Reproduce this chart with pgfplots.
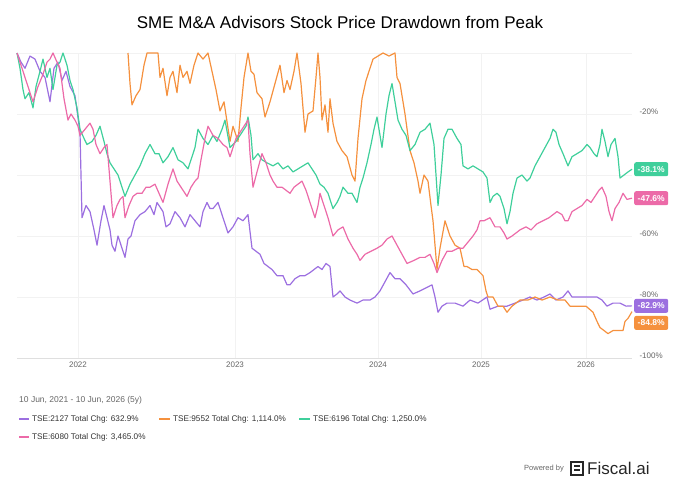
\documentclass[border=0pt]{standalone}
\usepackage{pgfplots}
\pgfplotsset{compat=1.18}
\usepackage{fontspec}
\setmainfont{Liberation Sans}
\definecolor{cpur}{HTML}{9C6FE0}
\definecolor{cora}{HTML}{F5913E}
\definecolor{cgrn}{HTML}{3FCF9B}
\definecolor{cpnk}{HTML}{EC6AA8}
\definecolor{tgray}{HTML}{666666}
\begin{document}
\begin{tikzpicture}
\begin{scope}[x=1pt,y=1pt]
\path (0,0) rectangle (680,-482);
\node[font=\fontsize{17}{20}\selectfont] at (340,-22) {SME M\&A Advisors Stock Price Drawdown from Peak};
\node[anchor=west,font=\fontsize{8.5}{10}\selectfont,text=tgray,inner sep=0pt] at (19,-400) {10 Jun, 2021 - 10 Jun, 2026 (5y)};
\tikzset{lg/.style={anchor=west,inner sep=0pt,font=\fontsize{8.2}{10}\selectfont,text=black!80}}
\draw[cpur,line width=1.5pt] (19,-419) -- (29,-419); \node[lg] at (32,-419) {TSE:2127 Total Chg: 632.9\%};
\draw[cora,line width=1.5pt] (159,-419) -- (170,-419); \node[lg] at (173,-419) {TSE:9552 Total Chg: 1,114.0\%};
\draw[cgrn,line width=1.5pt] (299,-419) -- (310,-419); \node[lg] at (313,-419) {TSE:6196 Total Chg: 1,250.0\%};
\draw[cpnk,line width=1.5pt] (19,-437) -- (29,-437); \node[lg] at (32,-437) {TSE:6080 Total Chg: 3,465.0\%};
\node[anchor=east,inner sep=0pt,font=\fontsize{7.5}{9}\selectfont,text=tgray] at (564,-469) {Powered by};
\draw[black!85,line width=1.5pt] (571,-462) rectangle (583,-475);
\draw[black!85,line width=1.1pt] (574,-466) -- (580,-466) (574,-470) -- (580,-470);
\node[anchor=west,font=\fontsize{17}{19}\selectfont,text=black!85,inner sep=0pt] at (587,-468) {Fiscal.ai};
\end{scope}
\begin{axis}[at={(17pt,-358pt)},anchor=south west,scale only axis,width=615pt,height=305pt,
 xmin=17,xmax=632,ymin=-100,ymax=0,clip=false,
 axis line style={draw=none},
 xtick={78,235,378,481,586},xticklabels={2022,2023,2024,2025,2026},
 ytick={-100,-80,-60,-20},yticklabels={-100\%,-80\%,-60\%,-20\%},
 extra y ticks={0,-40},extra y tick labels={},
 extra y tick style={grid=major,tick style={draw=none}},
 yticklabel pos=right,
 ymajorgrids,xmajorgrids,grid style={gray!10},
 tick style={draw=none},
 every tick label/.style={font=\fontsize{8}{9}\selectfont,text=tgray},
 yticklabel style={xshift=4pt,yshift=2pt},
 /pgf/number format/assume math mode=true,
 line join=round]
\draw[gray!25,line width=1pt] (axis cs:17,-100) -- (axis cs:632,-100);
\addplot[cpur,line width=1.2pt] coordinates {(17,0)(21,-3)(25,-5)(30,-1)(35,-2)(40,-6)(45,-8)(50,-16)(54,-5)(58,-3)(62,-9)(66,-6)(70,-11)(75,-14)(80,-26)(82,-54)(86,-50)(90,-52)(94,-58)(97,-63)(101,-55)(104,-50)(110,-58)(112,-63)(115,-65)(118,-60)(120,-62)(125,-67)(128,-61)(131,-60)(135,-55)(140,-53)(145,-52)(150,-50)(154,-53)(157,-49)(163,-52)(166,-57)(170,-56)(175,-52)(180,-54)(185,-57)(190,-53)(195,-55)(200,-57)(203,-52)(207,-49)(210,-51)(213,-51)(218,-49)(222,-53)(228,-59)(233,-57)(238,-54)(243,-55)(248,-53)(252,-64)(256,-65)(260,-66)(264,-69)(268,-70)(272,-71)(277,-73)(283,-73)(287,-76)(290,-76)(295,-74)(300,-73)(305,-73)(310,-72)(314,-71)(318,-70)(322,-71)(326,-69)(330,-70)(333,-80)(337,-79)(340,-78)(345,-80)(350,-81)(357,-82)(363,-81)(370,-81)(375,-80)(380,-78)(385,-75)(390,-72)(395,-74)(400,-74)(406,-76)(413,-79)(420,-78)(426,-77)(432,-76)(435,-80)(438,-85)(442,-83)(447,-82)(455,-82)(463,-83)(470,-81)(478,-82)(487,-80)(490,-84)(498,-83)(507,-83)(515,-82)(523,-81)(530,-80)(537,-81)(544,-80)(550,-79)(556,-81)(563,-80)(568,-78)(572,-80)(580,-80)(590,-80)(597,-80)(602,-81)(607,-83)(613,-82)(620,-82)(626,-83)(632,-82.9)};
\addplot[cora,line width=1.2pt] coordinates {(128,0)(130,-10)(132,-17)(136,-14)(140,-12)(144,-4)(147,0)(152,0)(158,0)(160,-8)(163,-5)(167,-14)(170,-8)(173,-6)(177,-13)(180,-4)(183,-8)(187,-6)(190,-10)(194,-4)(198,0)(203,-2)(208,0)(212,-6)(216,-12)(220,-19)(224,-16)(230,-29)(233,-24)(238,-29)(241,-18)(244,-8)(248,0)(251,-6)(254,-7)(257,-13)(262,-15)(265,-21)(270,-16)(275,-10)(280,-4)(284,-13)(287,-9)(290,-12)(294,-6)(297,0)(301,-10)(305,-26)(308,-20)(313,-19)(316,-8)(318,0)(320,-8)(322,-22)(325,-17)(328,-26)(330,-15)(333,-23)(337,-29)(342,-32)(347,-34)(352,-40)(355,-42)(358,-28)(362,-15)(366,-9)(370,-5)(373,-2)(378,-1)(383,0)(389,-1)(395,0)(397,-8)(400,-10)(405,-20)(410,-32)(414,-36)(418,-42)(420,-46)(424,-40)(428,-42)(431,-50)(433,-55)(435,-63)(437,-71)(440,-64)(445,-55)(450,-60)(455,-63)(460,-64)(464,-70)(467,-70)(472,-71)(477,-71)(483,-73)(486,-78)(488,-80)(493,-80)(498,-83)(503,-83)(507,-85)(512,-83)(516,-82)(520,-81)(528,-81)(535,-80)(542,-81)(550,-80)(558,-81)(565,-81)(570,-83)(578,-83)(586,-83)(593,-85)(597,-88)(600,-90)(604,-91)(608,-92)(613,-91)(618,-91)(623,-91)(625,-88)(628,-87)(632,-84.8)};
\addplot[cgrn,line width=1.2pt] coordinates {(17,0)(20,-5)(23,-12)(25,-15)(29,-13)(33,-18)(36,-11)(40,-6)(43,-2)(47,-8)(50,-5)(53,-12)(57,-4)(60,-3)(63,0)(67,-4)(70,-9)(73,-12)(77,-18)(80,-25)(84,-28)(87,-30)(92,-29)(96,-27)(100,-24)(104,-29)(107,-33)(110,-36)(114,-38)(118,-40)(122,-44)(125,-47)(130,-43)(135,-40)(140,-37)(145,-33)(150,-30)(155,-33)(159,-33)(163,-36)(168,-34)(173,-31)(178,-35)(183,-36)(188,-38)(192,-34)(195,-31)(198,-25)(203,-28)(208,-30)(213,-27)(217,-29)(222,-25)(225,-22)(230,-31)(236,-29)(242,-26)(246,-24)(248,-21)(251,-27)(253,-35)(258,-33)(262,-35)(267,-36)(273,-37)(278,-36)(283,-38)(288,-37)(293,-39)(298,-38)(303,-37)(308,-36)(312,-38)(316,-40)(320,-43)(324,-44)(328,-46)(333,-51)(337,-49)(340,-47)(343,-44)(348,-46)(352,-46)(357,-49)(360,-44)(363,-41)(367,-36)(371,-30)(374,-25)(377,-21)(380,-27)(382,-31)(386,-20)(389,-14)(392,-10)(395,-16)(398,-22)(402,-25)(406,-27)(410,-32)(415,-30)(420,-26)(425,-25)(430,-23)(434,-30)(436,-40)(438,-50)(441,-40)(444,-28)(448,-25)(452,-25)(457,-28)(461,-30)(463,-37)(468,-38)(473,-37)(478,-38)(483,-39)(487,-41)(490,-49)(493,-47)(497,-46)(500,-47)(504,-51)(507,-56)(510,-52)(513,-46)(517,-41)(522,-40)(527,-42)(530,-41)(535,-37)(540,-34)(545,-31)(550,-28)(553,-25)(556,-26)(559,-30)(563,-33)(568,-37)(572,-34)(577,-33)(582,-32)(587,-30)(590,-31)(594,-33)(597,-34)(600,-30)(602,-25)(605,-29)(608,-34)(611,-30)(615,-28)(618,-34)(620,-41)(624,-40)(628,-39)(632,-38.1)};
\addplot[cpnk,line width=1.2pt] coordinates {(17,0)(21,-4)(25,-8)(29,-12)(33,-16)(38,-11)(43,-7)(47,-3)(50,-2)(53,0)(57,-3)(60,-5)(64,-15)(68,-22)(71,-20)(75,-22)(78,-24)(80,-27)(85,-25)(90,-23)(93,-25)(96,-30)(100,-33)(104,-31)(107,-30)(110,-42)(113,-54)(117,-50)(120,-48)(123,-47)(125,-54)(129,-50)(133,-47)(137,-46)(142,-46)(146,-44)(150,-44)(155,-43)(159,-46)(163,-49)(168,-43)(173,-38)(177,-42)(183,-45)(187,-47)(191,-44)(195,-42)(198,-41)(201,-35)(205,-28)(208,-24)(213,-27)(218,-28)(223,-30)(227,-31)(230,-34)(236,-28)(242,-25)(248,-22)(250,-33)(253,-44)(257,-39)(262,-33)(266,-36)(270,-40)(273,-42)(277,-44)(282,-44)(286,-45)(290,-46)(294,-44)(298,-43)(302,-42)(306,-45)(311,-50)(315,-54)(318,-50)(320,-46)(324,-50)(328,-54)(333,-60)(338,-58)(343,-57)(348,-61)(353,-64)(357,-66)(360,-68)(365,-66)(371,-65)(377,-64)(382,-63)(387,-61)(392,-60)(397,-63)(402,-66)(407,-69)(414,-68)(420,-67)(425,-67)(430,-66)(434,-69)(437,-72)(442,-68)(447,-65)(452,-65)(458,-64)(463,-64)(468,-62)(473,-60)(477,-58)(480,-55)(484,-55)(490,-54)(495,-57)(500,-57)(504,-59)(507,-61)(512,-60)(516,-59)(520,-58)(526,-57)(531,-58)(537,-56)(543,-55)(549,-54)(553,-53)(557,-52)(562,-53)(565,-55)(568,-55)(572,-52)(577,-51)(582,-50)(587,-48)(591,-49)(595,-47)(599,-45)(602,-44)(606,-47)(609,-52)(612,-55)(615,-51)(619,-49)(623,-46)(627,-48)(632,-47.6)};
\tikzset{badge/.style={anchor=west,text=white,font=\bfseries\fontsize{8.5}{10}\selectfont,rounded corners=2pt,inner sep=3pt,minimum width=34pt,minimum height=14pt}}
\node[badge,fill=cgrn] at (axis cs:634,-38.1) {-38.1\%};
\node[badge,fill=cpnk] at (axis cs:634,-47.6) {-47.6\%};
\node[badge,fill=cpur] at (axis cs:634,-82.9) {-82.9\%};
\node[badge,fill=cora] at (axis cs:634,-88.5) {-84.8\%};
\end{axis}
\end{tikzpicture}
\end{document}
